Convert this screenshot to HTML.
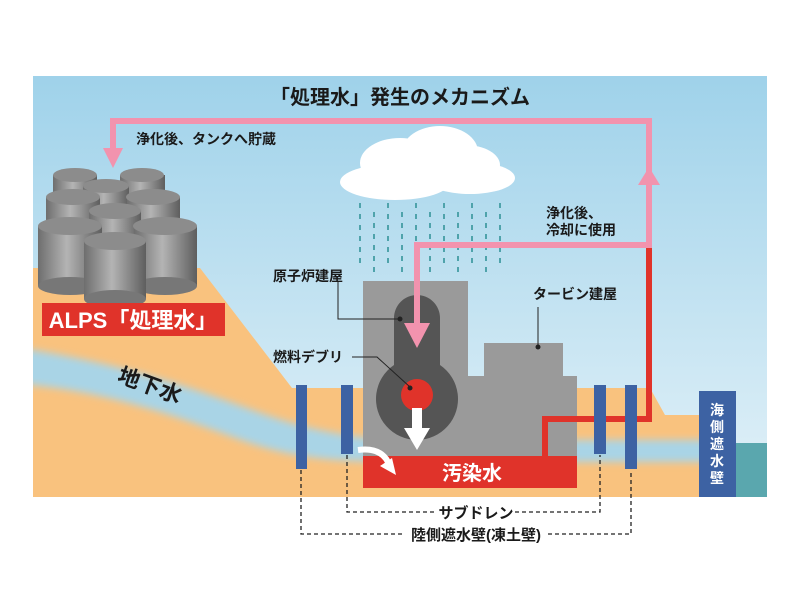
<!DOCTYPE html>
<html><head><meta charset="utf-8"><style>
html,body{margin:0;padding:0;background:#fff;}
svg{display:block;font-family:"Liberation Sans","Noto Sans CJK JP",sans-serif;}
</style></head><body>
<svg width="800" height="600" viewBox="0 0 800 600" xmlns="http://www.w3.org/2000/svg">
<defs>
<linearGradient id="sky" x1="0" y1="0" x2="0" y2="1">
<stop offset="0" stop-color="#9fd2ea"/><stop offset="1" stop-color="#e2f1f8"/></linearGradient>
<linearGradient id="cyl" x1="0" y1="0" x2="1" y2="0">
<stop offset="0" stop-color="#6e6e6e"/><stop offset="0.45" stop-color="#b4b4b4"/><stop offset="1" stop-color="#5e5e5e"/></linearGradient>
<filter id="bl" x="-10%" y="-30%" width="120%" height="160%"><feGaussianBlur stdDeviation="4"/></filter>
<clipPath id="gc"><path d="M33 268 L200 268 L292 388 L650 388 L665 415 L699 415 L699 497 L33 497 Z"/></clipPath>
</defs>
<rect x="33" y="76" width="734" height="421" fill="url(#sky)"/>
<!-- ground -->
<path d="M33 268 L200 268 L292 388 L650 388 L665 415 L699 415 L699 497 L33 497 Z" fill="#f9c27e"/>
<!-- groundwater -->
<g clip-path="url(#gc)">
<path d="M20 348 C100 360 170 380 230 402 C280 420 320 436 400 440 L720 440 L720 462 L400 462 C320 462 280 455 230 436 C170 414 100 390 20 384 Z" fill="#a9d4e6" filter="url(#bl)"/>
</g>
<rect x="736" y="443" width="31" height="54" fill="#5aa7ae"/>
<rect x="699" y="391" width="37" height="106" fill="#3d62a3"/>
<text font-size="14" font-weight="bold" fill="#fff" text-anchor="middle">
<tspan x="717" y="415">海</tspan><tspan x="717" y="432">側</tspan><tspan x="717" y="449">遮</tspan><tspan x="717" y="466">水</tspan><tspan x="717" y="483">壁</tspan></text>
<!-- tanks -->
<g>
<rect x="53" y="175" width="44" height="40" fill="url(#cyl)"/><ellipse cx="75" cy="175" rx="22" ry="7" fill="#8c8c8c"/>
<rect x="120" y="175" width="45" height="40" fill="url(#cyl)"/><ellipse cx="142" cy="175" rx="22" ry="7" fill="#8c8c8c"/>
<rect x="83" y="186" width="46" height="40" fill="url(#cyl)"/><ellipse cx="106" cy="186" rx="23" ry="7" fill="#8c8c8c"/>
<rect x="46" y="197" width="54" height="40" fill="url(#cyl)"/><ellipse cx="73" cy="197" rx="27" ry="8" fill="#8c8c8c"/>
<rect x="127" y="197" width="53" height="40" fill="url(#cyl)"/><ellipse cx="153" cy="197" rx="27" ry="8" fill="#8c8c8c"/>
<rect x="89" y="211" width="52" height="40" fill="url(#cyl)"/><ellipse cx="115" cy="211" rx="26" ry="8" fill="#8c8c8c"/>
<rect x="38" y="226" width="64" height="60" fill="url(#cyl)"/><ellipse cx="70" cy="286" rx="32" ry="9" fill="#777"/><ellipse cx="70" cy="226" rx="32" ry="9" fill="#8c8c8c"/>
<rect x="134" y="226" width="63" height="60" fill="url(#cyl)"/><ellipse cx="165" cy="286" rx="32" ry="9" fill="#777"/><ellipse cx="165" cy="226" rx="32" ry="9" fill="#8c8c8c"/>
<rect x="84" y="241" width="62" height="58" fill="url(#cyl)"/><ellipse cx="115" cy="299" rx="31" ry="9" fill="#777"/><ellipse cx="115" cy="241" rx="31" ry="9" fill="#8c8c8c"/>
</g>
<rect x="42" y="303" width="183" height="33" fill="#e0332a"/>
<text x="133" y="328" font-size="22" font-weight="bold" fill="#fff" text-anchor="middle">ALPS「処理水」</text>
<text x="150" y="393" font-size="22" font-weight="bold" fill="#1a1a1a" text-anchor="middle" transform="rotate(20 150 385)">地下水</text>
<!-- cloud -->
<g fill="#fff">
<ellipse cx="395" cy="182" rx="55" ry="18"/><ellipse cx="470" cy="178" rx="45" ry="16"/>
<ellipse cx="400" cy="163" rx="40" ry="25"/><ellipse cx="440" cy="152" rx="38" ry="26"/><ellipse cx="465" cy="165" rx="35" ry="20"/>
</g>
<!-- rain -->
<g stroke="#4fa3ab" stroke-width="2" stroke-dasharray="5 6">
<line x1="360" y1="203" x2="360" y2="268"/><line x1="374" y1="212" x2="374" y2="277"/>
<line x1="388" y1="203" x2="388" y2="268"/><line x1="402" y1="212" x2="402" y2="277"/>
<line x1="416" y1="203" x2="416" y2="268"/><line x1="430" y1="212" x2="430" y2="277"/>
<line x1="444" y1="203" x2="444" y2="268"/><line x1="458" y1="212" x2="458" y2="277"/>
<line x1="472" y1="203" x2="472" y2="268"/><line x1="486" y1="212" x2="486" y2="277"/>
<line x1="500" y1="203" x2="500" y2="268"/>
</g>
<!-- buildings -->
<path d="M363 281 H468 V376 H484 V343 H563 V376 H577 V488 H363 Z" fill="#9a9a9a"/>
<path d="M394 318 A23 23 0 0 1 440 318 V365 A41 41 0 1 1 394 365 Z" fill="#555"/>
<circle cx="417" cy="395" r="16" fill="#e0332a"/>
<path d="M412 408 H422 V428 H430 L417 450 L404 428 H412 Z" fill="#fff"/>
<!-- pool -->
<rect x="363" y="456" width="214" height="32" fill="#e0332a"/>
<text x="472" y="480" font-size="20" font-weight="bold" fill="#fff" text-anchor="middle">汚染水</text>
<path d="M358 450 Q380 447 388 462" stroke="#fff" stroke-width="6" fill="none"/>
<path d="M380 466 L396 475 L392 458 Z" fill="#fff"/>
<!-- red pipe -->
<path d="M545 456 V419 H649 V248" stroke="#e0332a" stroke-width="6" fill="none"/>
<!-- pink loops -->
<path d="M649 248 V121 H113 V150" stroke="#f293ae" stroke-width="6" fill="none"/>
<path d="M103 148 H123 L113 168 Z" fill="#f293ae"/>
<path d="M638 185 H660 L649 167 Z" fill="#f293ae"/>
<path d="M649 245 H417 V325" stroke="#f293ae" stroke-width="6" fill="none"/>
<path d="M404 323 H430 L417 348 Z" fill="#f293ae"/>
<!-- walls -->
<g fill="#3d62a3">
<rect x="296" y="385" width="11" height="84"/><rect x="341" y="385" width="12" height="69"/>
<rect x="594" y="385" width="12" height="69"/><rect x="625" y="385" width="12" height="84"/>
</g>
<!-- leaders -->
<g stroke="#222" stroke-width="1" fill="none">
<path d="M338 282 V319 H400"/><path d="M352 357 H377 L410 387"/><path d="M538 307 V347"/>
</g>
<g fill="#222"><circle cx="400" cy="319" r="2.5"/><circle cx="410" cy="388" r="2.5"/><circle cx="538" cy="347" r="2.5"/></g>
<!-- dashed -->
<g stroke="#222" stroke-width="1.3" fill="none" stroke-dasharray="4 3">
<path d="M347 455 V512 H437"/><path d="M515 512 H600 V455"/>
<path d="M301 470 V534 H405"/><path d="M548 534 H631 V470"/>
</g>
<g font-weight="bold" fill="#1a1a1a">
<text x="476" y="518" font-size="15" text-anchor="middle">サブドレン</text>
<text x="476" y="540" font-size="15" text-anchor="middle">陸側遮水壁(凍土壁)</text>
<text x="400" y="104" font-size="20" text-anchor="middle">「処理水」発生のメカニズム</text>
<text x="136" y="144" font-size="14">浄化後、タンクへ貯蔵</text>
<text x="546" y="218" font-size="14">浄化後、</text>
<text x="546" y="235" font-size="14">冷却に使用</text>
<text x="273" y="281" font-size="14">原子炉建屋</text>
<text x="273" y="362" font-size="14">燃料デブリ</text>
<text x="533" y="299" font-size="14">タービン建屋</text>
</g>
</svg>
</body></html>
